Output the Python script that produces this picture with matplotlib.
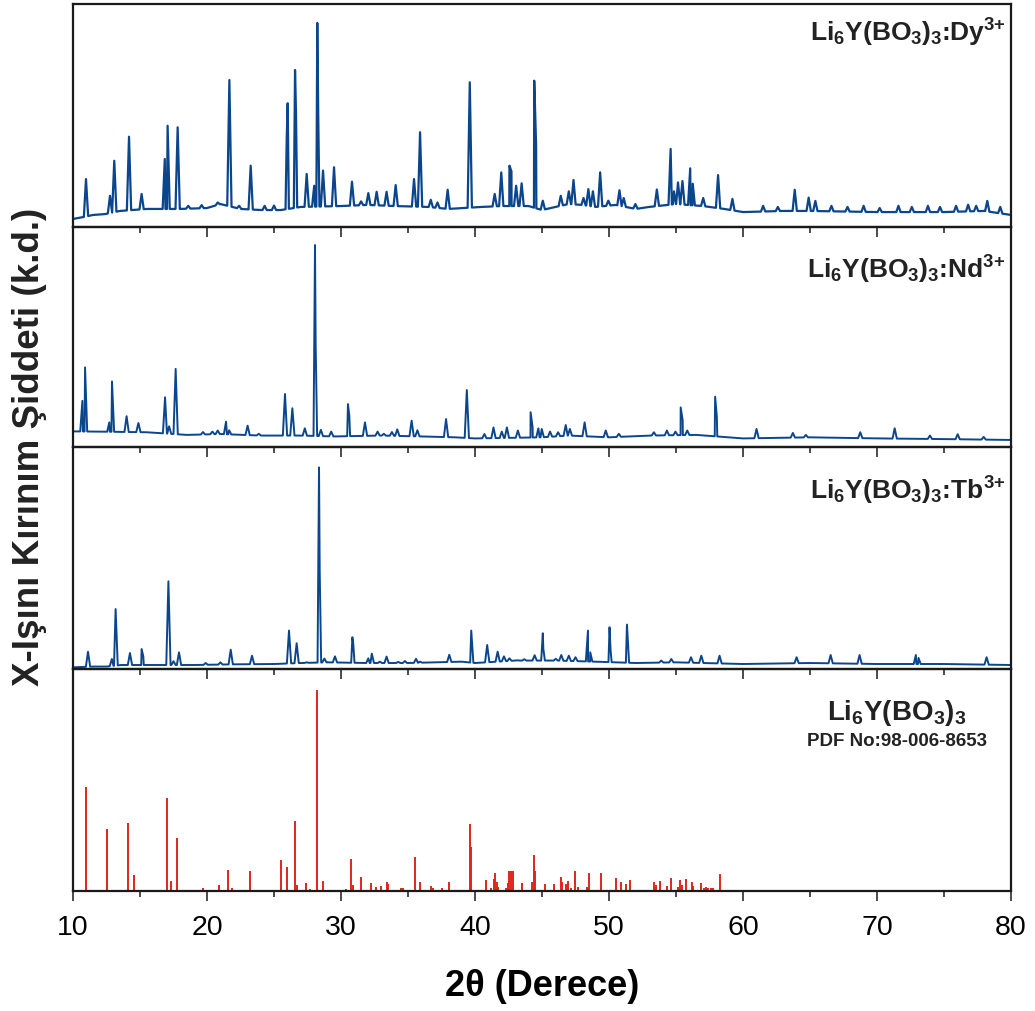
import numpy as np
import matplotlib.pyplot as plt

plt.rcParams['font.family'] = ['Liberation Sans', 'DejaVu Sans']
plt.rcParams['mathtext.fontset'] = 'custom'
plt.rcParams['mathtext.rm'] = 'Liberation Sans:bold'
plt.rcParams['mathtext.bf'] = 'Liberation Sans:bold'
plt.rcParams['mathtext.it'] = 'Liberation Sans:bold'
plt.rcParams['mathtext.default'] = 'rm'

# --- Li6Y(BO3)3:Dy3+ (peak 2theta, relative intensity) ---
dy_pos = [10.97, 12.76, 13.08, 14.18, 15.12, 16.85, 17.06, 17.81, 18.6, 19.6,
          20.8, 21.67, 22.4, 23.26, 24.3, 25.0, 25.95, 26.02, 26.57, 26.64,
          27.44, 28.0, 28.23, 28.3, 28.66, 29.48, 30.82, 31.5, 32.04, 32.66,
          33.4, 34.08, 35.45, 35.9, 36.7, 37.2, 37.96, 39.61, 41.47, 41.96,
          42.57, 42.72, 43.07, 43.48, 44.42, 44.56, 45.06, 46.4, 47.0, 47.35,
          48.1, 48.46, 48.8, 49.34, 49.95, 50.78, 51.1, 51.97, 53.57, 54.6,
          54.85, 55.15, 55.48, 56.06, 56.25, 57.03, 58.14, 59.21, 61.5, 62.6,
          63.86, 64.9, 65.4, 66.6, 67.8, 69.0, 70.2, 71.6, 72.6, 73.8,
          74.7, 75.9, 76.8, 77.4, 78.23, 79.2]
dy_int = [21.5, 14.0, 29.7, 40.5, 14.8, 30.5, 45.4, 44.7, 9.5, 9.8,
          11.0, 65.9, 9.5, 27.5, 9.5, 9.6, 40.0, 55.5, 70.4, 52.0,
          23.8, 18.5, 91.5, 50.7, 25.3, 26.8, 20.3, 11.5, 15.2, 15.8,
          15.8, 18.8, 21.5, 42.5, 12.2, 11.0, 16.7, 64.9, 14.8, 24.5,
          27.5, 25.0, 18.5, 19.6, 65.6, 37.0, 11.8, 14.0, 16.0, 21.1,
          13.0, 17.0, 16.0, 24.5, 11.8, 16.5, 13.0, 10.3, 16.8, 35.0,
          16.0, 20.0, 20.6, 26.3, 19.4, 13.0, 23.3, 12.6, 9.5, 9.0,
          16.7, 13.2, 11.7, 9.5, 9.0, 9.5, 8.5, 9.5, 9.0, 9.5,
          9.0, 9.5, 10.0, 9.5, 11.7, 9.0]
dy_base_pos = [10.0, 10.8, 11.5, 12.4, 13.5, 15.5, 18.0, 20.0, 21.0, 22.5,
               24.0, 25.5, 27.0, 30.0, 32.0, 34.0, 36.5, 38.0, 40.5, 42.0,
               44.0, 45.0, 46.0, 47.0, 48.0, 49.0, 50.5, 52.0, 53.0, 55.0,
               57.0, 58.6, 60.0, 63.0, 65.0, 70.0, 75.0, 78.0, 80.0]
dy_base_int = [3.6, 4.5, 5.4, 5.8, 7.2, 8.1, 8.1, 8.5, 10.3, 8.1,
               7.6, 7.6, 9.0, 9.4, 9.9, 9.4, 9.0, 8.1, 9.0, 9.4,
               9.4, 7.6, 9.0, 10.3, 9.9, 9.0, 9.9, 8.1, 9.0, 10.3,
               9.4, 8.1, 6.7, 7.2, 7.2, 6.7, 6.7, 7.2, 5.4]

# --- Li6Y(BO3)3:Nd3+ ---
nd_pos = [10.7, 10.9, 12.71, 12.91, 14.0, 14.88, 16.87, 17.17, 17.66, 19.7,
          20.4, 20.8, 21.42, 21.65, 23.03, 23.87, 25.82, 26.37, 27.3, 28.06,
          28.11, 28.5, 29.27, 30.52, 30.62, 31.79, 32.73, 33.2, 33.8, 34.2,
          35.27, 35.7, 37.84, 39.39, 40.7, 41.38, 42.0, 42.38, 43.2, 44.15,
          44.3, 44.73, 44.98, 45.6, 46.2, 46.77, 47.08, 48.18, 49.76, 50.73,
          53.35, 54.32, 54.96, 55.35, 55.5, 55.84, 57.92, 58.05, 61.01, 63.72,
          64.69, 68.75, 71.32, 73.95, 76.02, 77.96]
nd_int = [21.0, 36.2, 11.2, 29.8, 14.0, 10.9, 22.6, 9.4, 35.5, 6.8,
          7.0, 7.5, 11.5, 7.6, 9.7, 6.0, 24.1, 17.6, 8.5, 91.8,
          46.0, 7.8, 7.0, 19.5, 14.2, 11.2, 7.0, 6.0, 6.8, 8.0,
          12.0, 7.6, 12.7, 25.9, 5.9, 8.9, 7.0, 8.9, 7.5, 15.8,
          8.9, 8.5, 8.2, 7.0, 6.7, 10.0, 8.2, 11.2, 7.5, 6.0,
          6.7, 7.5, 7.0, 18.0, 12.0, 7.5, 22.9, 13.6, 8.2, 6.4,
          5.5, 6.7, 8.5, 5.2, 5.8, 4.6]
nd_base_pos = [10.0, 12.0, 15.5, 18.5, 21.0, 24.0, 27.0, 29.5, 33.0, 36.0,
               38.5, 40.0, 45.0, 47.0, 50.0, 53.0, 56.5, 60.0, 65.0, 70.0,
               75.0, 80.0]
nd_base_int = [7.1, 7.0, 6.7, 5.5, 5.9, 5.2, 5.2, 4.8, 5.2, 4.8,
               4.4, 3.9, 4.4, 5.2, 4.4, 5.2, 5.5, 3.9, 4.4, 3.9,
               3.6, 3.2]

# --- Li6Y(BO3)3:Tb3+ ---
tb_pos = [11.12, 12.9, 13.18, 14.25, 15.12, 15.25, 17.12, 17.5, 17.91, 19.9,
          21.0, 21.77, 23.36, 26.12, 26.69, 27.44, 28.36, 28.41, 28.76, 29.55,
          30.85, 30.92, 32.04, 32.3, 32.9, 33.4, 34.27, 34.77, 35.6, 35.9,
          36.7, 38.08, 39.72, 39.8, 40.91, 41.69, 42.16, 42.57, 43.2, 43.68,
          44.45, 45.06, 45.1, 46.03, 46.44, 47.0, 47.5, 48.43, 48.6, 50.04,
          50.12, 51.34, 51.42, 53.9, 54.65, 56.12, 56.89, 58.25, 64.0, 66.54,
          68.7, 72.9, 73.1, 78.18]
tb_int = [7.8, 4.5, 27.0, 7.2, 9.0, 5.6, 39.5, 3.5, 7.5, 2.7,
          3.0, 8.7, 6.0, 17.3, 11.6, 3.0, 90.8, 44.0, 4.7, 5.7,
          14.3, 11.0, 4.8, 6.9, 3.3, 5.6, 3.2, 3.6, 4.6, 3.3,
          3.0, 6.4, 17.3, 10.0, 10.8, 7.8, 5.7, 4.8, 3.9, 4.4,
          6.2, 16.1, 9.0, 4.6, 6.3, 6.0, 5.3, 17.3, 7.5, 18.8,
          8.3, 20.0, 11.0, 3.8, 4.5, 5.3, 6.0, 6.0, 5.3, 6.3,
          6.3, 6.3, 5.0, 5.3]
tb_base_pos = [10.0, 11.5, 12.5, 13.6, 16.0, 19.0, 22.0, 25.0, 27.0, 29.0,
               32.0, 35.0, 37.0, 39.0, 40.0, 43.0, 46.0, 49.0, 52.0, 55.0,
               60.0, 65.0, 70.0, 75.0, 80.0]
tb_base_int = [0.75, 1.1, 1.1, 1.8, 1.8, 1.8, 2.1, 2.25, 2.7, 3.0,
               2.7, 2.7, 3.0, 3.3, 2.7, 3.8, 3.8, 3.3, 2.7, 3.0,
               2.25, 2.7, 2.25, 2.25, 1.8]

# --- PDF No:98-006-8653 reference lines ---
ref_pos = [10.97, 12.51, 14.1, 14.58, 16.99, 17.31, 17.76, 19.67, 20.92, 21.54,
           21.89, 23.21, 23.7, 25.52, 25.95, 26.57, 26.7, 27.39, 27.7, 28.18,
           28.66, 30.4, 30.75, 30.87, 31.52, 32.25, 32.6, 32.97, 33.42, 33.54,
           34.48, 34.66, 35.52, 35.9, 36.72, 36.9, 37.5, 38.06, 39.61, 39.72,
           40.83, 41.19, 41.41, 41.52, 41.66, 41.74, 42.3, 42.43, 42.54, 42.7,
           42.85, 43.51, 44.23, 44.37, 44.5, 45.22, 45.86, 46.39, 46.52, 46.8,
           46.94, 47.19, 47.44, 47.69, 48.38, 48.52, 49.35, 49.43, 50.53, 50.87,
           51.28, 51.53, 52.4, 53.35, 53.49, 53.8, 54.35, 54.63, 55.12, 55.29,
           55.45, 55.73, 56.17, 56.28, 56.89, 57.08, 57.22, 57.42, 57.58, 57.78,
           58.25, 58.74, 59.3]
ref_int = [47.0, 28.0, 30.5, 7.3, 41.8, 4.6, 23.7, 1.2, 2.7, 9.3,
           1.5, 9.0, 0.5, 13.8, 10.8, 31.4, 2.7, 3.8, 0.8, 90.5,
           4.4, 0.8, 14.3, 2.7, 6.2, 3.8, 1.8, 2.4, 3.9, 3.3,
           1.5, 1.3, 15.2, 3.9, 2.4, 1.2, 1.2, 4.2, 30.2, 20.0,
           5.0, 1.2, 5.3, 8.0, 4.2, 2.0, 1.2, 3.5, 9.1, 9.0,
           9.0, 3.5, 3.9, 16.2, 9.0, 3.2, 3.0, 6.5, 4.2, 3.0,
           4.7, 1.2, 8.8, 2.0, 2.0, 8.0, 0.5, 8.0, 5.7, 4.2,
           3.0, 5.0, 0.5, 4.2, 2.7, 4.7, 2.4, 5.7, 2.0, 5.0,
           2.7, 5.3, 4.2, 2.4, 3.5, 1.5, 1.7, 1.5, 1.2, 1.2,
           7.5, 0.5, 0.5]

labels = [r'Li$_6$Y(BO$_3$)$_3$:Dy$^{\text{3+}}$',
          r'Li$_6$Y(BO$_3$)$_3$:Nd$^{\text{3+}}$',
          r'Li$_6$Y(BO$_3$)$_3$:Tb$^{\text{3+}}$']

blue = '#0b468c'
red = '#e1251b'
frame = '#1a1a1a'


def trace(pos, inten, bpos, bint, hw=0.16):
    # spikes on top of the baseline readings
    pos = np.array(pos)
    xs, ys = [], []
    for x, y in zip(bpos, bint):
        if np.all(np.abs(pos - x) > hw):
            xs.append(x)
            ys.append(y)
    for p, h in zip(pos, inten):
        feet = np.interp([p - hw, p + hw], bpos, bint)
        xs += [p - hw, p, p + hw]
        ys += [feet[0], h, feet[1]]
    order = np.argsort(xs, kind='stable')
    return np.array(xs)[order], np.array(ys)[order]


fig = plt.figure(figsize=(10.35, 10.12), dpi=100)
W, H = 1035.0, 1012.0
left, right = 73 / W, 1011 / W
edges = [5, 228, 448, 670, 892]
axes = []
for i in range(4):
    top, bot = 1 - edges[i] / H, 1 - edges[i + 1] / H
    ax = fig.add_axes([left, bot, right - left, top - bot])
    ax.patch.set_visible(False)
    ax.set_xlim(10, 80)
    ax.set_ylim(0, 100)
    ax.set_yticks([])
    ax.set_xticks(np.arange(10, 81, 10))
    ax.set_xticks(np.arange(15, 80, 10), minor=True)
    ax.tick_params(axis='x', which='major', direction='out', length=7.5,
                   width=1.1, color=frame, labelsize=20.5, pad=9,
                   labelbottom=(i == 3))
    ax.tick_params(axis='x', which='minor', direction='out', length=4.5,
                   width=1.1, color=frame)
    for s in ax.spines.values():
        s.set_linewidth(1.6)
        s.set_color(frame)
    axes.append(ax)

series = [(dy_pos, dy_int, dy_base_pos, dy_base_int),
          (nd_pos, nd_int, nd_base_pos, nd_base_int),
          (tb_pos, tb_int, tb_base_pos, tb_base_int)]
label_y = [0.835, 0.771, 0.769]
widths = [1.6, 1.4, 1.4]
for ax, (p, v, bp, bv), lab, ly, lw in zip(axes[:3], series, labels, label_y, widths):
    x, y = trace(p, v, bp, bv)
    ax.plot(x, y, color=blue, lw=lw)
    ax.text(0.994, ly, lab, transform=ax.transAxes, ha='right', va='baseline',
            fontsize=19, fontweight='bold', color='#222222')

axes[3].vlines(ref_pos, 0, ref_int, color=red, lw=1.4)
axes[3].text(0.878, 0.775, 'Li$_6$Y(BO$_3$)$_3$', transform=axes[3].transAxes,
             ha='center', va='baseline', fontsize=20, fontweight='bold', color='#222222')
axes[3].text(0.878, 0.658, 'PDF No:98-006-8653', transform=axes[3].transAxes,
             ha='center', va='baseline', fontsize=13.5, fontweight='bold', color='#222222')

axes[3].set_xlabel('2θ (Derece)', fontsize=26, fontweight='bold', labelpad=20)
fig.text(30 / W, 1 - 447 / H, 'X-Işını Kırınım Şiddeti (k.d.)', rotation=90,
         ha='center', va='center', fontsize=26.5, fontweight='bold', color='#222222')

fig.savefig('out.png', dpi=100)
